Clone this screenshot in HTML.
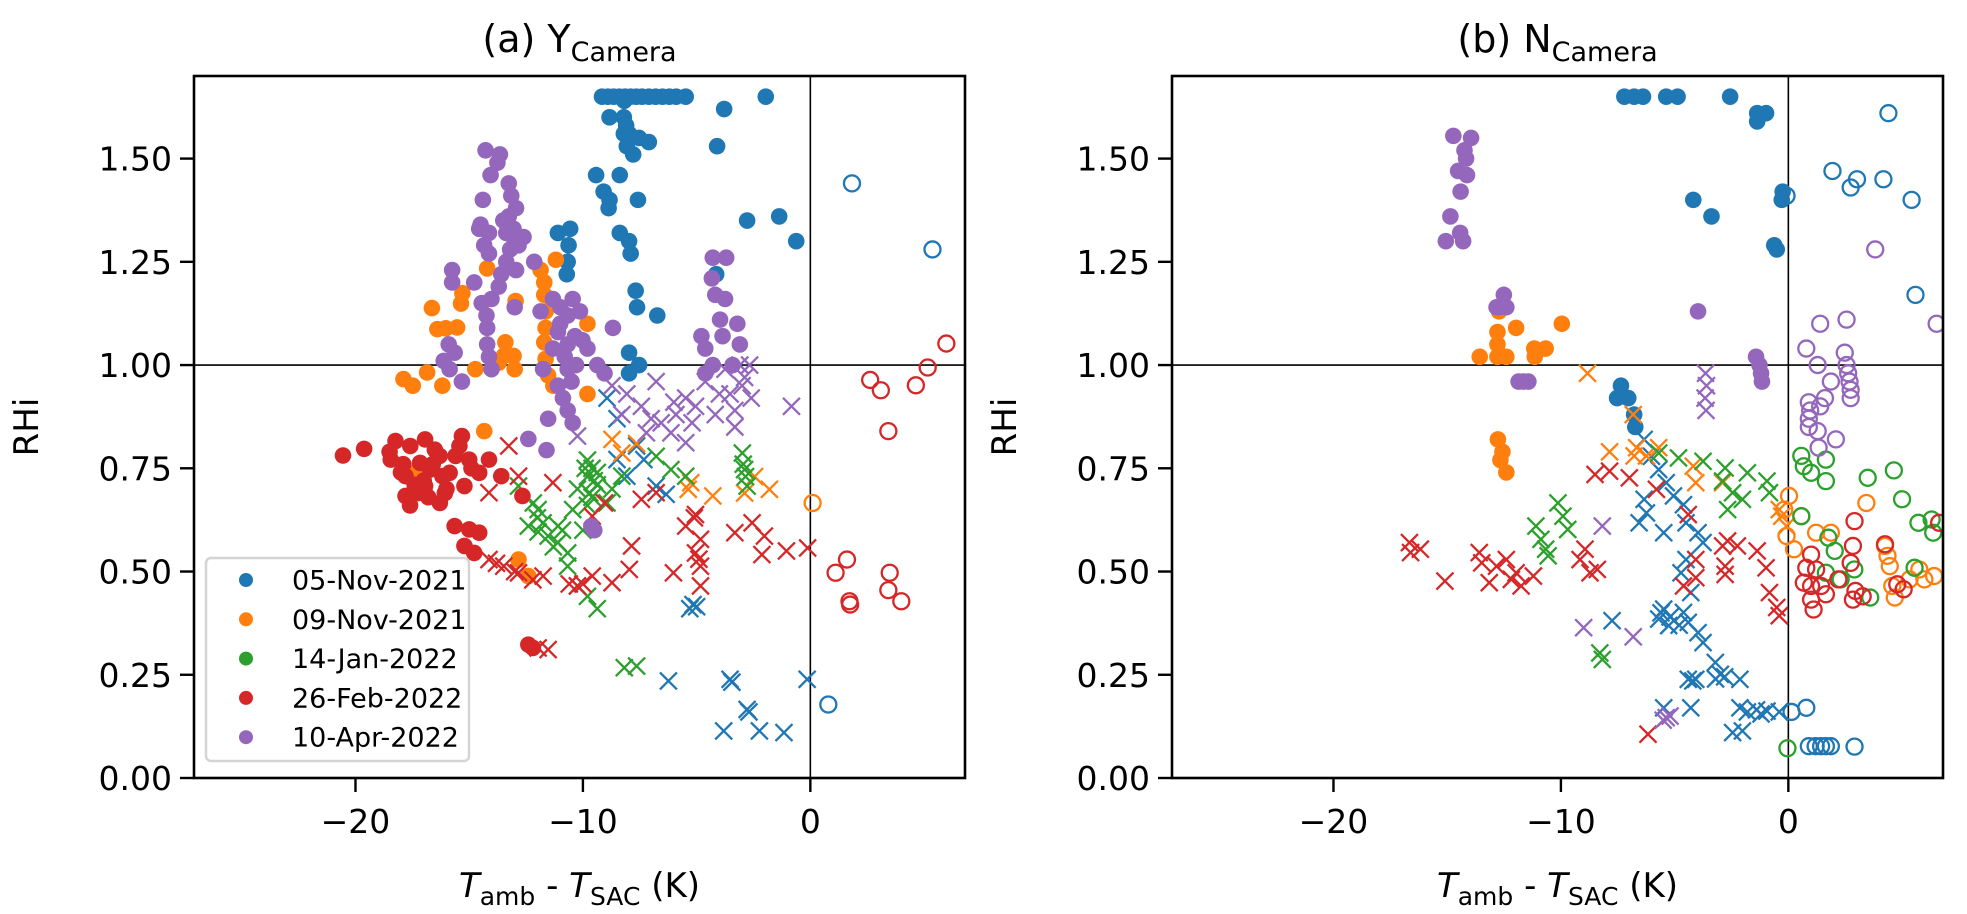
<!DOCTYPE html>
<html><head><meta charset="utf-8"><style>
body{margin:0;background:#fff}
svg{display:block}
text{font-family:"DejaVu Sans","Liberation Sans",sans-serif;fill:#000}
</style></head><body>
<svg id="fig" width="1967" height="914" viewBox="0 0 1967 914" xmlns="http://www.w3.org/2000/svg"></svg>
<script>
// ---- axis config ----
const xTicks = [-20, -10, 0];
const yTicks = [0, 0.25, 0.5, 0.75, 1.0, 1.25, 1.5];
const yTickLabels = ["0.00","0.25","0.50","0.75","1.00","1.25","1.50"];
const seriesNames = ["05-Nov-2021","09-Nov-2021","14-Jan-2022","26-Feb-2022","10-Apr-2022"];
const seriesColors = ["#1f77b4","#ff7f0e","#2ca02c","#d62728","#9467bd"];

// ---- panel (a) data ----
const a_nov05_dot_x = [-9.16,-8.9,-8.65,-8.4,-8.15,-7.9,-7.65,-7.4,-7.1,-6.8,-6.5,-6.2,-5.9,-5.48,-1.96,-3.79,-8.18,-8.2,-8.1,-8.2,-8.83,-7.97,-7.53,-7.1,-8.07,-7.79,-4.1,-9.42,-8.38,-9.09,-8.83,-8.87,-7.58,-2.78,-1.37,-0.62,-11.1,-10.56,-10.63,-10.67,-10.71,-8.38,-7.97,-7.9,-4.14,-7.68,-7.62,-6.73,-7.97,-7.53,-7.97];
const a_nov05_dot_y = [1.65,1.65,1.65,1.65,1.65,1.65,1.65,1.65,1.65,1.65,1.65,1.65,1.65,1.65,1.65,1.62,1.64,1.60,1.58,1.56,1.60,1.56,1.55,1.54,1.53,1.51,1.53,1.46,1.46,1.42,1.40,1.38,1.40,1.35,1.36,1.30,1.32,1.33,1.29,1.25,1.22,1.32,1.30,1.27,1.22,1.18,1.14,1.12,1.03,1.00,0.98];
const a_nov05_x_x = [-8.94,-8.5,-8.5,-8.07,-7.32,-6.78,-6.34,-7.64,-5.16,-5.3,-5.0,-6.24,-3.53,-3.45,-0.14,-2.78,-2.7,-3.81,-2.24,-1.16];
const a_nov05_x_y = [0.92,0.87,0.771,0.731,0.771,0.707,0.687,0.804,0.42,0.41,0.415,0.235,0.239,0.232,0.239,0.166,0.16,0.114,0.114,0.11];
const a_nov05_o_x = [1.83,5.37,0.79];
const a_nov05_o_y = [1.44,1.28,0.178];

const a_nov09_dot_x = [-16.64,-16.4,-16.03,-15.53,-15.3,-15.36,-14.21,-13.41,-13.48,-13.05,-13.7,-12.96,-14.73,-16.85,-17.48,-17.89,-16.18,-13.0,-11.86,-11.7,-11.7,-11.64,-11.64,-11.7,-11.64,-11.53,-11.3,-9.8,-9.8,-11.19,-14.34,-12.83,-12.4,-17.4];
const a_nov09_dot_y = [1.138,1.087,1.089,1.091,1.174,1.149,1.234,1.055,1.022,1.022,1.006,1.155,0.99,0.982,0.95,0.966,0.95,0.99,1.23,1.2,1.17,1.13,1.09,1.055,1.015,0.975,0.95,1.1,0.93,1.255,0.84,0.529,0.489,0.739];
const a_nov09_x_x = [-8.72,-8.29,-7.64,-5.26,-4.29,-2.89,-1.8,-2.45,-5.37];
const a_nov09_x_y = [0.82,0.787,0.81,0.715,0.683,0.69,0.699,0.73,0.699];
const a_nov09_o_x = [0.1];
const a_nov09_o_y = [0.666];

const a_jan14_x_x = [-9.8,-9.8,-9.7,-9.6,-9.37,-8.94,-11.97,-12.4,-11.53,-10.67,-10.67,-10.24,-9.8,-9.37,-10.45,-10.24,-8.29,-6.78,-6.13,-5.48,-2.99,-2.89,-2.78,-12.83,-12.18,-11.75,-11.1,-8.18,-7.64,-11.1,-11.97,-9.37,-9.8,-8.72,-9.5,-10.0,-9.9,-9.6,-10.9,-11.3,-12.0,-2.95,-2.85];
const a_jan14_x_y = [0.77,0.73,0.69,0.75,0.71,0.666,0.65,0.61,0.586,0.545,0.513,0.465,0.44,0.41,0.65,0.70,0.731,0.779,0.747,0.731,0.787,0.747,0.707,0.707,0.666,0.618,0.57,0.267,0.271,0.61,0.596,0.74,0.66,0.70,0.72,0.60,0.75,0.68,0.60,0.56,0.63,0.76,0.73];

const a_feb26_dot_x = [-20.55,-19.62,-18.24,-18.45,-17.59,-16.94,-16.51,-17.16,-17.8,-17.8,-16.94,-16.29,-15.86,-15.43,-15.32,-15.0,-15.21,-14.13,-13.59,-14.56,-16.18,-16.72,-17.27,-16.07,-17.9,-18.5,-15.64,-15.0,-14.56,-15.21,-14.78,-12.66,-12.4,-12.2,-16.6,-17.0,-16.3,-17.4,-16.8,-15.6,-14.9,-18.0,-16.0,-17.6];
const a_feb26_dot_y = [0.781,0.797,0.816,0.771,0.804,0.82,0.795,0.763,0.731,0.683,0.707,0.666,0.739,0.804,0.828,0.771,0.707,0.771,0.731,0.739,0.731,0.747,0.69,0.69,0.76,0.79,0.61,0.602,0.594,0.562,0.545,0.683,0.323,0.315,0.76,0.72,0.78,0.71,0.68,0.78,0.75,0.74,0.70,0.66];
const a_feb26_x_x = [-13.26,-14.13,-12.83,-11.32,-14.13,-13.48,-12.83,-11.75,-10.24,-9.59,-8.72,-7.96,-7.86,-9.05,-9.59,-7.43,-6.78,-5.05,-5.48,-4.83,-5.05,-4.83,-4.83,-6.02,-3.32,-2.56,-2.02,-2.13,-1.05,-0.12,-11.97,-11.53,-10.0,-13.8,-13.0,-12.2,-10.6,-5.1,-4.9];
const a_feb26_x_y = [0.804,0.691,0.731,0.715,0.529,0.513,0.497,0.489,0.465,0.489,0.473,0.505,0.562,0.666,0.634,0.675,0.691,0.638,0.61,0.578,0.545,0.513,0.465,0.497,0.594,0.618,0.586,0.541,0.55,0.557,0.315,0.311,0.47,0.52,0.50,0.48,0.47,0.63,0.53];
const a_feb26_o_x = [5.98,5.16,4.64,2.63,3.1,3.43,1.61,1.11,1.72,1.75,3.49,3.43,4.0];
const a_feb26_o_y = [1.052,0.994,0.951,0.964,0.939,0.84,0.529,0.497,0.428,0.42,0.497,0.455,0.428];

const a_apr10_dot_x = [-14.28,-13.65,-13.76,-14.06,-13.26,-13.15,-12.94,-13.26,-13.05,-13.37,-12.61,-12.83,-14.56,-14.13,-14.34,-14.13,-13.37,-13.59,-12.94,-12.14,-15.75,-15.75,-14.78,-13.7,-14.45,-14.02,-14.24,-14.21,-14.21,-14.13,-14.02,-16.12,-15.86,-15.64,-15.32,-13.0,-11.32,-10.99,-10.45,-10.13,-10.67,-11.1,-10.35,-10.02,-10.67,-11.32,-9.8,-9.37,-10.67,-9.05,-11.1,-10.88,-10.67,-10.45,-11.53,-11.86,-8.68,-11.75,-4.29,-3.7,-4.33,-4.18,-3.75,-3.97,-3.21,-4.79,-3.86,-3.1,-4.62,-4.29,-4.62,-3.42,-9.63,-9.5,-12.4,-11.6,-13.5,-13.0,-14.4,-15.9,-10.8,-10.3,-10.5,-11.0,-13.2,-14.5];
const a_apr10_dot_y = [1.52,1.51,1.49,1.46,1.44,1.41,1.38,1.36,1.33,1.32,1.31,1.29,1.33,1.32,1.29,1.27,1.25,1.22,1.23,1.25,1.23,1.2,1.2,1.19,1.15,1.16,1.12,1.09,1.05,1.02,0.99,1.01,0.99,1.03,0.96,1.14,1.16,1.14,1.16,1.13,1.12,1.08,1.07,1.06,1.05,1.04,1.04,1.0,0.99,0.98,0.95,0.92,0.89,0.86,0.87,1.13,1.09,0.99,1.26,1.26,1.21,1.17,1.16,1.11,1.10,1.07,1.07,1.05,1.04,1.0,0.98,1.0,0.61,0.60,0.821,0.794,1.35,1.30,1.40,1.05,1.02,1.0,0.96,1.10,1.28,1.34];
const a_apr10_x_x = [-8.72,-8.07,-6.78,-5.48,-4.62,-3.75,-3.1,-2.89,-3.53,-3.32,-4.18,-5.05,-5.91,-6.56,-7.43,-8.29,-0.83,-2.67,-10.24,-6.13,-5.48,-7.21,-3.32,-7.0,-6.0,-4.0,-3.0,-2.6,-5.2];
const a_apr10_x_y = [0.95,0.93,0.96,0.92,0.96,0.99,1.0,0.97,0.93,0.89,0.88,0.90,0.88,0.86,0.90,0.88,0.90,1.0,0.828,0.836,0.812,0.836,0.85,0.87,0.91,0.93,0.95,0.92,0.86];

// ---- panel (b) data ----
const b_nov05_dot_x = [-7.21,-6.78,-6.39,-5.37,-4.87,-2.56,-1.37,-0.98,-1.37,-0.25,-0.29,-4.18,-3.38,-0.62,-0.51,-7.36,-7.53,-7.04,-6.78,-6.73];
const b_nov05_dot_y = [1.65,1.65,1.65,1.65,1.65,1.65,1.61,1.61,1.59,1.42,1.40,1.40,1.36,1.29,1.28,0.95,0.92,0.92,0.88,0.85];
const b_nov05_x_x = [-6.34,-6.02,-5.7,-5.37,-5.05,-4.61,-6.34,-6.24,-6.56,-5.48,-4.5,-3.97,-3.75,-4.5,-4.72,-4.29,-5.48,-5.7,-5.26,-4.61,-4.4,-3.97,-3.75,-7.75,-3.21,-4.4,-4.07,-2.99,-2.13,-4.29,-5.48,-2.13,-0.94,-0.4,-2.45,-2.02,-5.6,-5.2,-4.8,-1.8,-1.4,-4.2,-3.2,-2.8,-1.2];
const b_nov05_x_y = [0.82,0.779,0.747,0.715,0.683,0.662,0.675,0.642,0.618,0.594,0.618,0.594,0.57,0.529,0.497,0.449,0.409,0.385,0.369,0.401,0.377,0.352,0.328,0.381,0.28,0.239,0.239,0.251,0.239,0.17,0.17,0.17,0.162,0.16,0.11,0.114,0.40,0.39,0.37,0.16,0.165,0.235,0.24,0.245,0.155];
const b_nov05_o_x = [4.4,1.94,3.02,2.74,4.18,5.42,-0.08,5.59,0.14,0.79,0.9,1.44,1.87,2.91,1.2,1.65];
const b_nov05_o_y = [1.61,1.47,1.45,1.43,1.45,1.40,1.41,1.17,0.16,0.17,0.077,0.077,0.077,0.076,0.077,0.077];

const b_nov09_dot_x = [-13.57,-12.79,-11.97,-9.96,-12.79,-12.79,-12.4,-11.17,-10.67,-11.15,-12.72,-12.77,-12.57,-12.66,-12.4];
const b_nov09_dot_y = [1.02,1.08,1.09,1.10,1.05,1.02,1.02,1.04,1.04,1.02,1.13,0.82,0.79,0.77,0.74];
const b_nov09_x_x = [-8.83,-6.82,-7.86,-6.67,-6.24,-5.7,-6.78,-4.18,-4.07,-2.89,-0.29,-0.08,-0.4];
const b_nov09_x_y = [0.98,0.88,0.79,0.80,0.78,0.80,0.78,0.755,0.715,0.715,0.634,0.61,0.65];
const b_nov09_o_x = [0.03,-0.18,-0.08,0.25,0.57,1.22,1.87,3.43,4.25,4.36,4.46,4.57,4.68,5.33,5.98,6.41,5.76];
const b_nov09_o_y = [0.683,0.65,0.586,0.554,0.634,0.594,0.594,0.666,0.562,0.538,0.513,0.465,0.437,0.481,0.481,0.489,0.505];

const b_jan14_x_x = [-10.13,-9.91,-9.7,-11.1,-10.88,-10.67,-10.56,-8.29,-8.18,-5.7,-4.83,-3.75,-2.78,-1.8,-0.94,-2.89,-2.45,-2.67,-2.02,-0.83];
const b_jan14_x_y = [0.666,0.634,0.602,0.61,0.578,0.554,0.538,0.303,0.287,0.787,0.775,0.767,0.751,0.739,0.719,0.719,0.691,0.65,0.675,0.691];
const b_jan14_o_x = [0.57,0.68,1.0,1.65,1.65,3.49,4.64,5.0,5.72,6.3,6.37,0.57,1.76,2.04,2.9,1.65,2.3,5.55,3.6,-0.04];
const b_jan14_o_y = [0.78,0.755,0.739,0.771,0.719,0.727,0.745,0.675,0.618,0.626,0.594,0.634,0.582,0.55,0.505,0.497,0.481,0.509,0.437,0.072];

const b_feb26_x_x = [-16.66,-16.61,-16.18,-15.1,-13.59,-13.48,-13.15,-12.83,-12.4,-11.97,-11.75,-11.21,-12.18,-8.5,-7.86,-6.99,-8.94,-8.72,-9.16,-8.4,-5.8,-4.4,-4.07,-4.07,-4.61,-2.89,-2.67,-2.24,-2.78,-2.78,-1.37,-0.98,-0.83,-0.51,-0.4,-6.17];
const b_feb26_x_y = [0.57,0.546,0.554,0.477,0.546,0.521,0.473,0.513,0.529,0.497,0.465,0.489,0.481,0.735,0.743,0.727,0.554,0.497,0.529,0.505,0.699,0.638,0.529,0.485,0.465,0.562,0.574,0.562,0.513,0.493,0.55,0.509,0.449,0.413,0.393,0.106];
const b_feb26_o_x = [2.91,2.84,2.74,1.0,0.79,1.22,0.68,1.0,1.44,2.2,1.0,1.65,1.11,2.84,3.27,2.95,4.25,4.79,5.07,6.63];
const b_feb26_o_y = [0.622,0.562,0.521,0.541,0.509,0.505,0.473,0.465,0.465,0.481,0.432,0.445,0.408,0.432,0.44,0.453,0.566,0.469,0.457,0.618];

const b_apr10_dot_x = [-14.73,-13.95,-14.24,-14.17,-14.52,-14.13,-14.41,-14.86,-14.43,-15.06,-14.3,-12.51,-12.72,-12.4,-12.83,-3.97,-1.42,-1.27,-1.2,-1.16,-11.86,-11.43,-11.64];
const b_apr10_dot_y = [1.555,1.55,1.52,1.50,1.47,1.46,1.42,1.36,1.32,1.30,1.30,1.17,1.14,1.14,1.14,1.13,1.02,1.00,0.98,0.96,0.96,0.96,0.96];
const b_apr10_x_x = [-3.64,-3.6,-3.66,-3.62,-8.18,-9.0,-6.82,-5.37,-5.5,-5.2];
const b_apr10_x_y = [0.98,0.95,0.92,0.89,0.61,0.364,0.342,0.146,0.14,0.15];
const b_apr10_o_x = [3.82,1.4,2.56,6.52,0.79,1.29,2.48,2.56,2.63,2.69,2.74,2.74,1.87,1.61,0.9,1.4,0.96,0.9,0.9,1.29,2.09,1.33];
const b_apr10_o_y = [1.28,1.10,1.11,1.10,1.04,1.00,1.03,1.00,0.98,0.96,0.94,0.92,0.96,0.92,0.91,0.90,0.89,0.87,0.85,0.84,0.82,0.80];

// ---- geometry ----
const XMIN = -27.1, XMAX = 6.8, YMIN = 0, YMAX = 1.7;
const panels = [
  {x0:194, x1:965, y0:76, y1:778, title:"(a) Y", key:"a", legend:true},
  {x0:1172, x1:1943, y0:76, y1:778, title:"(b) N", key:"b", legend:false}
];
const NS = "http://www.w3.org/2000/svg";
const svg = document.getElementById('fig');
function mk(tag, attrs, parent){
  const e = document.createElementNS(NS, tag);
  for (const k in attrs) e.setAttribute(k, attrs[k]);
  (parent||svg).appendChild(e);
  return e;
}
const dataA = [
  {dx:a_nov05_dot_x,dy:a_nov05_dot_y,xx:a_nov05_x_x,xy:a_nov05_x_y,ox:a_nov05_o_x,oy:a_nov05_o_y},
  {dx:a_nov09_dot_x,dy:a_nov09_dot_y,xx:a_nov09_x_x,xy:a_nov09_x_y,ox:a_nov09_o_x,oy:a_nov09_o_y},
  {dx:[],dy:[],xx:a_jan14_x_x,xy:a_jan14_x_y,ox:[],oy:[]},
  {dx:a_feb26_dot_x,dy:a_feb26_dot_y,xx:a_feb26_x_x,xy:a_feb26_x_y,ox:a_feb26_o_x,oy:a_feb26_o_y},
  {dx:a_apr10_dot_x,dy:a_apr10_dot_y,xx:a_apr10_x_x,xy:a_apr10_x_y,ox:[],oy:[]}
];
const dataB = [
  {dx:b_nov05_dot_x,dy:b_nov05_dot_y,xx:b_nov05_x_x,xy:b_nov05_x_y,ox:b_nov05_o_x,oy:b_nov05_o_y},
  {dx:b_nov09_dot_x,dy:b_nov09_dot_y,xx:b_nov09_x_x,xy:b_nov09_x_y,ox:b_nov09_o_x,oy:b_nov09_o_y},
  {dx:[],dy:[],xx:b_jan14_x_x,xy:b_jan14_x_y,ox:b_jan14_o_x,oy:b_jan14_o_y},
  {dx:[],dy:[],xx:b_feb26_x_x,xy:b_feb26_x_y,ox:b_feb26_o_x,oy:b_feb26_o_y},
  {dx:b_apr10_dot_x,dy:b_apr10_dot_y,xx:b_apr10_x_x,xy:b_apr10_x_y,ox:b_apr10_o_x,oy:b_apr10_o_y}
];

panels.forEach((p, pi) => {
  const sx = v => p.x0 + (v - XMIN) / (XMAX - XMIN) * (p.x1 - p.x0);
  const sy = v => p.y1 - (v - YMIN) / (YMAX - YMIN) * (p.y1 - p.y0);
  const g = mk('g', {});
  
  
  const clipId = 'clip' + p.key;
  const cp = mk('clipPath', {id: clipId}, g);
  mk('rect', {x:p.x0, y:p.y0, width:p.x1-p.x0, height:p.y1-p.y0}, cp);

  const hl = mk('line', {x1:p.x0, x2:p.x1, y1:sy(1), y2:sy(1), stroke:'#000', 'stroke-width':1.6}, g);
  
  
  const vl = mk('line', {x1:sx(0), x2:sx(0), y1:p.y0, y2:p.y1, stroke:'#000', 'stroke-width':1.6}, g);
  
  

  const data = pi === 0 ? dataA : dataB;
  const mg = mk('g', {'clip-path': 'url(#' + clipId + ')'}, g);
  
  
  data.forEach((s, si) => {
    const c = seriesColors[si];
    s.dx.forEach((v, i) => {
      const d = mk('circle', {cx:sx(v), cy:sy(s.dy[i]), r:8.3, fill:c}, mg);
      
      
    });
    s.xx.forEach((v, i) => {
      const cx = sx(v), cy = sy(s.xy[i]), h = 8.5;
      const x = mk('path', {d:`M${cx-h},${cy-h}L${cx+h},${cy+h}M${cx-h},${cy+h}L${cx+h},${cy-h}`, stroke:c, 'stroke-width':2.3, fill:'none'}, mg);
      
      
    });
    s.ox.forEach((v, i) => {
      const o = mk('circle', {cx:sx(v), cy:sy(s.oy[i]), r:8, fill:'none', stroke:c, 'stroke-width':2.3}, mg);
      
      
    });
  });

  const fr = mk('rect', {x:p.x0, y:p.y0, width:p.x1-p.x0, height:p.y1-p.y0, fill:'none', stroke:'#000', 'stroke-width':2.6}, g);
  
  

  xTicks.forEach(t => {
    const X = sx(t);
    const tk = mk('line', {x1:X, x2:X, y1:p.y1, y2:p.y1+14, stroke:'#000', 'stroke-width':2.4}, g);
    
    
    const tl = mk('text', {x:X, y:p.y1+55, 'text-anchor':'middle', 'font-size':33}, g);
    tl.textContent = t < 0 ? '\u2212' + Math.abs(t) : String(t);
    
    
  });
  yTicks.forEach((t, i) => {
    const Y = sy(t);
    const tk = mk('line', {x1:p.x0-14, x2:p.x0, y1:Y, y2:Y, stroke:'#000', 'stroke-width':2.4}, g);
    
    
    const tl = mk('text', {x:p.x0-22, y:Y+12, 'text-anchor':'end', 'font-size':33}, g);
    tl.textContent = yTickLabels[i];
    
    
  });

  const cxm = (p.x0 + p.x1) / 2;
  const tt = mk('text', {x:cxm, y:52, 'text-anchor':'middle', 'font-size':38}, g);
  
  
  tt.appendChild(document.createTextNode(p.title));
  const ts = mk('tspan', {'font-size':27, dy:9}, tt);
  ts.textContent = 'Camera';

  const xl = mk('text', {x:cxm, y:897, 'text-anchor':'middle', 'font-size':34}, g);
  
  
  const t1 = mk('tspan', {'font-style':'italic'}, xl); t1.textContent = 'T';
  const t2 = mk('tspan', {'font-size':25, dy:8}, xl); t2.textContent = 'amb';
  const t3 = mk('tspan', {dy:-8}, xl); t3.textContent = ' - ';
  const t4 = mk('tspan', {'font-style':'italic'}, xl); t4.textContent = 'T';
  const t5 = mk('tspan', {'font-size':25, dy:8}, xl); t5.textContent = 'SAC';
  const t6 = mk('tspan', {dy:-8}, xl); t6.textContent = ' (K)';

  const yl = mk('text', {x:0, y:0, 'text-anchor':'middle', 'font-size':34, transform:`translate(${p.x0-156},${(p.y0+p.y1)/2}) rotate(-90)`}, g);
  yl.textContent = 'RHi';
  
  

  if (p.legend) {
    const lg = mk('g', {}, g);
    
    
    mk('rect', {x:206, y:558, width:263, height:203, rx:5, fill:'#fff', 'fill-opacity':0.85, stroke:'#d4d4d4', 'stroke-width':2.5}, lg);
    seriesNames.forEach((n, i) => {
      const yy = 580 + i * 39.3;
      const e = mk('g', {}, lg);
      
      
      mk('circle', {cx:246, cy:yy, r:7, fill:seriesColors[i]}, e);
      const lt = mk('text', {x:292, y:yy+9.5, 'font-size':27}, e);
      lt.textContent = n;
    });
  }
});
</script>
</body></html>
